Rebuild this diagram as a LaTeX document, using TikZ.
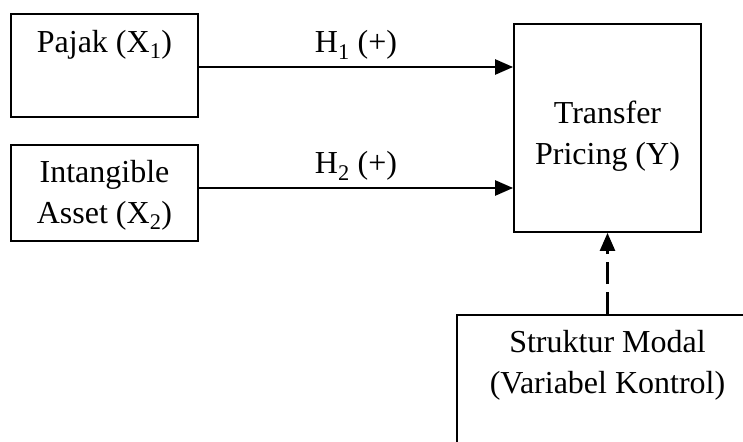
\documentclass[tikz,border=0pt]{standalone}
\usepackage{fontspec}
\setmainfont{Liberation Serif}
\usetikzlibrary{arrows.meta}
\begin{document}
\begin{tikzpicture}[x=1pt,y=-1pt,
  box/.style={draw,line width=1.8pt,inner sep=0pt},
  conn/.style={line width=2.5pt,-{Triangle[length=18pt,width=15pt]}},
  lbl/.style={font=\fontsize{32}{41}\selectfont,align=center,inner sep=0pt}]
\useasboundingbox (0,0) rectangle (743,441);
\clip (0,0) rectangle (743,441);
\node[box,minimum width=187pt,minimum height=103pt] (pajak) at (104.5,65.5) {};
\node[lbl] at (104.5,45) {Pajak (X\textsubscript{1})};
\node[box,minimum width=187pt,minimum height=96pt] (intang) at (104.5,193) {};
\node[lbl] at (104.5,195) {Intangible\\Asset (X\textsubscript{2})};
\node[box,minimum width=187pt,minimum height=208pt] (tp) at (607.5,128) {};
\node[lbl] at (607.5,136) {Transfer\\Pricing (Y)};
\node[box,minimum width=306pt,minimum height=160pt,anchor=north west] (struk) at (456,314) {};
\node[lbl] at (607.5,365) {Struktur Modal\\(Variabel Kontrol)};
\coordinate (a1) at (pajak.east |- 0,67);
\coordinate (b1) at (tp.west |- 0,67);
\coordinate (a2) at (intang.east |- 0,188);
\coordinate (b2) at (tp.west |- 0,188);
\draw[conn] (a1) -- node[lbl,above=6pt] {H\textsubscript{1} (+)} (b1);
\draw[conn] (a2) -- node[lbl,above=6pt] {H\textsubscript{2} (+)} (b2);
\draw[conn,dash pattern=on 22pt off 8pt] (struk.north -| tp.south) -- (tp.south);
\end{tikzpicture}
\end{document}
